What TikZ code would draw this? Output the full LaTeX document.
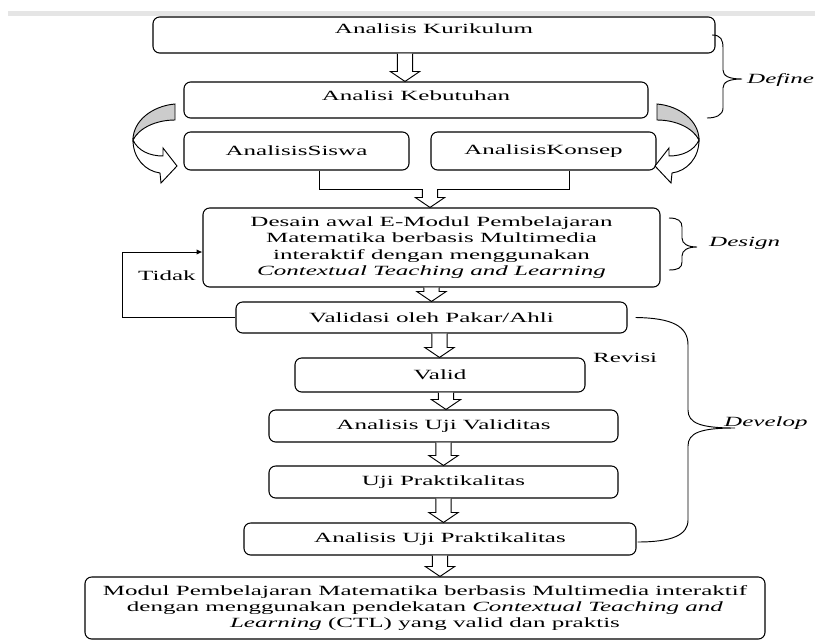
\documentclass[tikz,border=0pt]{standalone}
\usepackage{fontspec}
\setmainfont{Liberation Serif}[FakeStretch=1.78]
\usetikzlibrary{calc,arrows.meta}
\newcommand{\diagfont}{\fontsize{12pt}{13.9pt}\selectfont}

\begin{document}
\begin{tikzpicture}[x=0.3mm, y=-0.3mm,
    box/.style={draw, rounded corners=2mm, line width=.9pt, align=center, inner sep=0pt, font=\diagfont},
    lbl/.style={inner sep=0pt, font=\diagfont},
    conn/.style={line width=.8pt},
    blk/.style={fill=white, line width=.8pt, to path={
        let \p1=(\tikztostart), \p2=(\tikztotarget) in
        (\x1-6.5pt,\y1) -- (\x1-6.5pt,\y2+8.5pt) -- (\x1-12.5pt,\y2+8.5pt) -- (\x1,\y2)
        -- (\x1+12.5pt,\y2+8.5pt) -- (\x1+6.5pt,\y2+8.5pt) -- (\x1+6.5pt,\y1)}},
    bendarrow/.pic={
        \fill[gray!40] (175,104) .. controls (152,106) and (133,121) .. (133,140)
            .. controls (139,128) and (156,120) .. (175,120) -- cycle;
        \draw[line width=.8pt] (175,104) .. controls (152,106) and (133,121) .. (133,140)
            .. controls (139,128) and (156,120) .. (175,120) -- cycle;
        \draw[line width=.8pt, fill=white] (133,140) .. controls (133,158) and (145,171) .. (160,173)
            -- (161,183) -- (177,166) -- (163,148) -- (163,156)
            .. controls (150,156) and (138,151) .. (133,140) -- cycle;}]
    \useasboundingbox (0,0) rectangle (815,641);
    \fill[white] (0,0) rectangle (815,641);
    \fill[gray!20] (8,11) rectangle (815,16);

    \node[box, minimum width=168.6mm, minimum height=10.8mm, text height=8.5pt, text depth=11.5pt] (kur) at (434,35) {Analisis Kurikulum};
    \node[box, minimum width=139.2mm, minimum height=10.8mm, text height=8.5pt, text depth=8pt] (keb) at (416,100) {Analisi Kebutuhan};
    \node[box, minimum width=67.5mm, minimum height=11.4mm] (siswa) at (296.5,151) {AnalisisSiswa};
    \node[box, minimum width=67.5mm, minimum height=11.4mm] (konsep) at (543.5,151) {AnalisisKonsep};
    \node[box, minimum width=137.1mm, minimum height=23.7mm] (desain) at (431.5,247.5)
        {Desain awal E-Modul Pembelajaran\\Matematika berbasis Multimedia\\interaktif dengan menggunakan\\\textit{Contextual Teaching and Learning}};
    \node[box, minimum width=117.3mm, minimum height=9.3mm] (vld) at (431.5,317.5) {Validasi oleh Pakar/Ahli};
    \node[box, minimum width=87mm, minimum height=10.2mm] (valid) at (440,375) {Valid};
    \node[box, minimum width=104.7mm, minimum height=9.6mm] (ujival) at (443.5,426) {Analisis Uji Validitas};
    \node[box, minimum width=104.7mm, minimum height=9.6mm] (ujiprak) at (443.5,482) {Uji Praktikalitas};
    \node[box, minimum width=117.6mm, minimum height=9.6mm] (anprak) at (440,539) {Analisis Uji Praktikalitas};
    \node[box, minimum width=204mm, minimum height=18.6mm] (modul) at (425,608)
        {Modul Pembelajaran Matematika berbasis Multimedia interaktif\\dengan menggunakan pendekatan \textit{Contextual Teaching and}\\\textit{Learning} (CTL) yang valid dan praktis};

    \node[lbl, anchor=west] (tidak) at (138,276) {Tidak};
    \node[lbl, anchor=west] (revisi) at (593,358) {Revisi};
    \node[lbl, anchor=west] (define) at (747,80) {\textit{Define}};
    \node[lbl, anchor=west] (design) at (709,243) {\textit{Design}};
    \node[lbl, anchor=west] (develop) at (724,423) {\textit{Develop}};

    \pic at (0,0) {bendarrow};
    \pic[xscale=-1] at (832,0) {bendarrow};

    \coordinate (j1) at (319,189);
    \coordinate (j2) at (569,189);
    \coordinate (jm) at (430,189);
    \coordinate (lp) at (122,252);
    \draw[conn] (j1 |- siswa.south) -- (j1) -- (j2) -- (j2 |- konsep.south);
    \draw[conn, -{Latex[length=5pt,width=4.5pt]}] (vld.west) -| (lp) -- (desain.west |- lp);

    \draw[blk] ([xshift=-8.7mm]kur.south) to (keb.north);
    \draw[blk] (jm) to (desain.north);
    \draw[blk] (desain.south) to (vld.north);
    \draw[blk] ([xshift=2.4mm]vld.south) to (valid.north);
    \draw[blk] ([xshift=1.8mm]valid.south) to (ujival.north);
    \draw[blk] (ujival.south) to (ujiprak.north);
    \draw[blk] (ujiprak.south) to (anprak.north);
    \draw[blk] (anprak.south) to (modul.north);

    \draw[conn] ([xshift=-1mm]kur.east) .. controls (721,35) and (723,40) .. (723,48) -- (723,70)
        .. controls (723,76) and (729,79) .. (742,79) .. controls (729,79) and (723,82) .. (723,88)
        -- (723,108) .. controls (723,115) and (716,118) .. (707,118);
    \draw[conn] (669,218) .. controls (678,218) and (682,221) .. (682,227) -- (682,238)
        .. controls (682,244) and (688,247) .. (697,247) .. controls (688,247) and (682,250) .. (682,256)
        -- (682,262) .. controls (682,268) and (678,270) .. (669,270);
    \draw[conn] ([xshift=2.4mm]vld.east) .. controls (672,318) and (688,326) .. (688,345) -- (688,410)
        .. controls (688,423) and (700,428) .. (735,428) .. controls (700,428) and (688,433) .. (688,446)
        -- (688,520) .. controls (688,535) and (672,542) .. ([xshift=0.3mm,yshift=-0.9mm]anprak.east);
\end{tikzpicture}
\end{document}
